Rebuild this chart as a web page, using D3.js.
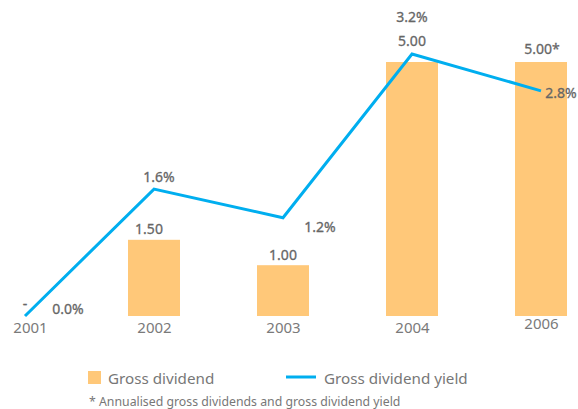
<html>
<head>
  <script src="https://d3js.org/d3.v7.min.js"></script>
  <style>
    body { margin: 0; background: #fff; }
    text { font-family: "Noto Sans", sans-serif; }
  </style>
</head>
<body>
  <svg id="chart" width="578" height="409"></svg>
  <script>
    // data
    const years = ["2001", "2002", "2003", "2004", "2006"];
    const dividend = [0, 1.50, 1.00, 5.00, 5.00];
    const dividendLabels = ["-", "1.50", "1.00", "5.00", "5.00*"];
    const yieldPct = [0.0, 1.55, 1.2, 3.2, 2.75];
    const yieldLabels = ["0.0%", "1.6%", "1.2%", "3.2%", "2.8%"];

    const svg = d3.select("#chart");
    const base = 316;

    const x = d3.scalePoint().domain(years).range([25, 541]);
    const yBar = d3.scaleLinear().domain([0, 5]).range([base, 62]);
    const yLine = d3.scaleLinear().domain([0, 3.2]).range([base, 54]);
    const barW = 52;

    const rows = years.map((yr, i) => ({
      yr, div: dividend[i], divLab: dividendLabels[i],
      yl: yieldPct[i], ylLab: yieldLabels[i]
    }));

    // bars
    svg.selectAll("rect.bar").data(rows.filter(d => d.div > 0))
      .join("rect")
      .attr("class", "bar")
      .attr("x", d => x(d.yr) - barW / 2)
      .attr("y", d => yBar(d.div))
      .attr("width", barW)
      .attr("height", d => base - yBar(d.div))
      .attr("fill", "#ffc879");

    // line
    const line = d3.line().x(d => x(d.yr)).y(d => yLine(d.yl));
    svg.append("path").datum(rows)
      .attr("d", line)
      .attr("fill", "none")
      .attr("stroke", "#00aeef")
      .attr("stroke-width", 3);

    // bar labels
    const divOff = [[0, -7], [-5, -6], [0, -5], [0, -16], [1, -8]];
    svg.selectAll("text.dlab").data(rows)
      .join("text")
      .attr("class", "dlab")
      .attr("x", (d, i) => x(d.yr) + divOff[i][0])
      .attr("y", (d, i) => yBar(d.div) + divOff[i][1])
      .attr("text-anchor", "middle")
      .attr("font-size", 14)
      .attr("fill", "#666")
      .style("stroke", "#666").style("stroke-width", 0.3)
      .text(d => d.divLab);

    // yield labels: offsets relative to each point
    const ylOff = [[43, -2], [5, -7], [37, 14], [0, -32], [20, 7]];
    svg.selectAll("text.ylab").data(rows)
      .join("text")
      .attr("class", "ylab")
      .attr("x", (d, i) => x(d.yr) + ylOff[i][0])
      .attr("y", (d, i) => yLine(d.yl) + ylOff[i][1])
      .attr("text-anchor", "middle")
      .attr("font-size", 14)
      .attr("fill", "#666")
      .style("stroke", "#666").style("stroke-width", 0.3)
      .text(d => d.ylLab);

    // x axis labels
    const axis = d3.axisBottom(x).tickSize(0).tickPadding(0);
    const ax = svg.append("g").attr("transform", `translate(0, ${base + 6})`).call(axis);
    ax.select(".domain").remove();
    ax.selectAll("text")
      .attr("font-size", 15)
      .attr("fill", "#7a7a7a")
      .attr("dx", (d, i) => i === 0 ? 5 : 0)
      .attr("dy", (d, i) => i === 4 ? "0.45em" : "0.71em")
      .style("font-family", "'Noto Sans', sans-serif");

    // legend
    const lg = svg.append("g");
    lg.append("rect").attr("x", 88).attr("y", 371).attr("width", 13).attr("height", 13).attr("fill", "#ffc879");
    lg.append("text").attr("x", 108).attr("y", 384).attr("font-size", 15.2).attr("fill", "#777").text("Gross dividend");
    lg.append("line").attr("x1", 286).attr("x2", 316).attr("y1", 377).attr("y2", 377)
      .attr("stroke", "#00aeef").attr("stroke-width", 3);
    lg.append("text").attr("x", 324).attr("y", 384).attr("font-size", 15.2).attr("fill", "#777").text("Gross dividend yield");
    svg.append("text").attr("x", 89).attr("y", 406).attr("font-size", 12.3).attr("fill", "#777")
      .text("* Annualised gross dividends and gross dividend yield");
  </script>
</body>
</html>
